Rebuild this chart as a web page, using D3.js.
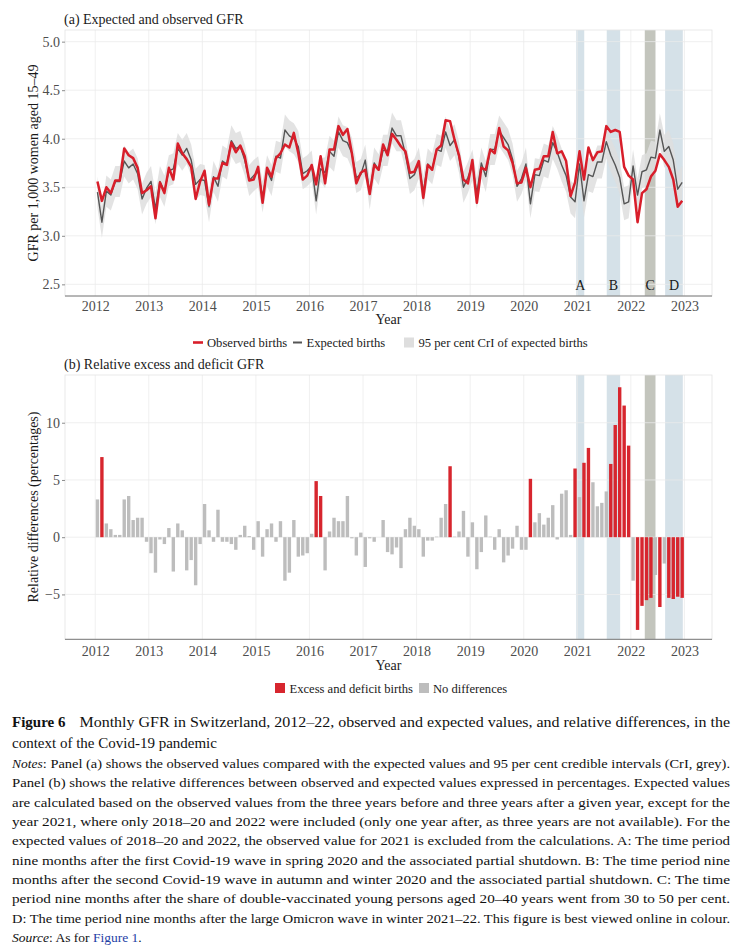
<!DOCTYPE html>
<html>
<head>
<meta charset="utf-8">
<script src="https://cdn.jsdelivr.net/npm/d3@7"></script>
<style>
body { margin: 0; background: #fff; }
svg text { font-family: "Liberation Serif", "Times New Roman", serif; }
</style>
</head>
<body>
<svg id="chart" width="740" height="949"></svg>
<script>
var years = [2012, 2013, 2014, 2015, 2016, 2017, 2018, 2019, 2020, 2021, 2022];

// GFR per 1,000 women aged 15-49, monthly, one row per year
var observed = [
  3.56, 3.36, 3.50, 3.44, 3.57, 3.57, 3.90, 3.83, 3.80, 3.70, 3.44, 3.47,
  3.51, 3.18, 3.55, 3.44, 3.70, 3.58, 3.95, 3.85, 3.79, 3.71, 3.38, 3.56,
  3.67, 3.32, 3.59, 3.59, 3.75, 3.73, 3.96, 3.86, 3.93, 3.82, 3.57, 3.58,
  3.71, 3.34, 3.70, 3.61, 3.80, 3.85, 3.94, 3.91, 4.06, 3.85, 3.58, 3.62,
  3.73, 3.53, 3.82, 3.54, 3.89, 3.89, 4.13, 4.04, 4.10, 3.85, 3.54, 3.65,
  3.68, 3.43, 3.73, 3.68, 3.94, 3.83, 4.05, 3.99, 3.92, 3.87, 3.65, 3.66,
  3.77, 3.39, 3.73, 3.68, 3.89, 3.93, 4.19, 4.18, 3.99, 3.83, 3.58, 3.54,
  3.78, 3.34, 3.70, 3.68, 3.89, 3.85, 4.11, 3.92, 3.88, 3.75, 3.54, 3.55,
  3.70, 3.50, 3.68, 3.69, 3.82, 3.82, 4.07, 3.85, 3.87, 3.77, 3.41, 3.55,
  3.87, 3.58, 3.91, 3.78, 3.86, 3.87, 4.13, 4.07, 4.09, 4.07, 3.71, 3.62,
  3.58, 3.14, 3.44, 3.48, 3.61, 3.67, 3.84, 3.78, 3.71, 3.58, 3.30, 3.36
];
var expected = [
  3.45, 3.14, 3.46, 3.42, 3.56, 3.56, 3.77, 3.70, 3.74, 3.64, 3.38, 3.49,
  3.56, 3.28, 3.56, 3.46, 3.67, 3.69, 3.90, 3.83, 3.90, 3.78, 3.53, 3.58,
  3.57, 3.30, 3.61, 3.51, 3.77, 3.74, 3.98, 3.90, 3.92, 3.78, 3.57, 3.62,
  3.66, 3.40, 3.67, 3.57, 3.82, 3.80, 4.09, 4.03, 4.00, 3.92, 3.64, 3.67,
  3.72, 3.36, 3.69, 3.65, 3.87, 3.82, 4.07, 3.98, 3.96, 3.85, 3.60, 3.63,
  3.78, 3.43, 3.75, 3.68, 3.88, 3.88, 4.11, 4.03, 4.03, 3.84, 3.59, 3.63,
  3.75, 3.45, 3.74, 3.69, 3.89, 3.87, 4.07, 3.93, 3.99, 3.81, 3.50, 3.60,
  3.73, 3.44, 3.75, 3.61, 3.89, 3.89, 4.08, 4.01, 3.94, 3.79, 3.51, 3.59,
  3.74, 3.33, 3.63, 3.62, 3.78, 3.76, 3.96, 3.86, 3.73, 3.62, 3.40, 3.35,
  3.74, 3.36, 3.63, 3.61, 3.76, 3.76, 3.97, 3.83, 3.73, 3.60, 3.33, 3.35,
  3.72, 3.42, 3.66, 3.68, 3.81, 3.80, 4.09, 3.87, 3.92, 3.78, 3.48, 3.55
];
var ciLower = [
  3.29, 2.98, 3.30, 3.26, 3.40, 3.40, 3.61, 3.54, 3.58, 3.48, 3.22, 3.33,
  3.40, 3.12, 3.40, 3.30, 3.51, 3.53, 3.74, 3.67, 3.74, 3.62, 3.37, 3.42,
  3.41, 3.14, 3.45, 3.35, 3.61, 3.58, 3.82, 3.74, 3.76, 3.62, 3.41, 3.46,
  3.50, 3.24, 3.51, 3.41, 3.66, 3.64, 3.92, 3.87, 3.84, 3.76, 3.48, 3.51,
  3.56, 3.22, 3.56, 3.49, 3.71, 3.66, 3.91, 3.82, 3.80, 3.69, 3.44, 3.47,
  3.62, 3.27, 3.59, 3.52, 3.72, 3.72, 3.95, 3.87, 3.87, 3.68, 3.43, 3.47,
  3.59, 3.29, 3.58, 3.53, 3.73, 3.71, 3.91, 3.77, 3.83, 3.65, 3.34, 3.44,
  3.57, 3.28, 3.59, 3.45, 3.73, 3.73, 3.92, 3.85, 3.78, 3.63, 3.35, 3.43,
  3.57, 3.18, 3.46, 3.45, 3.61, 3.59, 3.79, 3.69, 3.56, 3.45, 3.23, 3.18,
  3.57, 3.19, 3.46, 3.44, 3.59, 3.59, 3.80, 3.66, 3.56, 3.43, 3.16, 3.18,
  3.55, 3.25, 3.49, 3.51, 3.64, 3.63, 3.92, 3.70, 3.75, 3.61, 3.31, 3.38
];
var ciUpper = [
  3.61, 3.30, 3.62, 3.58, 3.72, 3.72, 3.93, 3.86, 3.90, 3.80, 3.54, 3.65,
  3.72, 3.44, 3.72, 3.62, 3.83, 3.85, 4.06, 3.99, 4.06, 3.94, 3.69, 3.74,
  3.73, 3.46, 3.77, 3.67, 3.93, 3.90, 4.14, 4.06, 4.08, 3.94, 3.73, 3.78,
  3.82, 3.56, 3.83, 3.73, 3.98, 3.96, 4.25, 4.19, 4.16, 4.08, 3.80, 3.83,
  3.88, 3.50, 3.80, 3.81, 4.03, 3.98, 4.23, 4.14, 4.12, 4.01, 3.76, 3.79,
  3.94, 3.59, 3.91, 3.84, 4.04, 4.04, 4.27, 4.19, 4.19, 4.00, 3.75, 3.79,
  3.91, 3.61, 3.90, 3.85, 4.05, 4.03, 4.23, 4.09, 4.15, 3.97, 3.66, 3.76,
  3.89, 3.60, 3.91, 3.77, 4.05, 4.05, 4.24, 4.17, 4.10, 3.95, 3.67, 3.75,
  3.91, 3.47, 3.80, 3.79, 3.95, 3.93, 4.13, 4.03, 3.90, 3.79, 3.57, 3.52,
  3.91, 3.53, 3.80, 3.80, 3.93, 3.93, 4.14, 4.00, 3.90, 3.77, 3.50, 3.52,
  3.89, 3.59, 3.83, 3.85, 3.98, 3.97, 4.26, 4.04, 4.09, 3.95, 3.65, 3.72
];

// relative difference observed vs expected, percent
var relDiff = [
  3.3, 7.0, 1.2, 0.7, 0.2, 0.2, 3.3, 3.6, 1.5, 1.7, 1.7, -0.4,
  -1.4, -3.1, -0.2, -0.6, 0.8, -3.0, 1.2, 0.6, -2.9, -2.0, -4.2, -0.6,
  2.9, 0.6, -0.4, 2.4, -0.4, -0.4, -0.6, -1.1, 0.2, 1.0, 0.1, -1.1,
  1.4, -1.7, 0.7, 1.2, -0.4, 1.4, -3.8, -3.1, 1.5, -1.7, -1.6, -1.4,
  0.3, 4.9, 3.6, -2.9, 0.5, 1.7, 1.4, 1.4, 3.6, -0.1, -1.6, 0.4,
  -2.6, -0.1, -0.4, 0.0, 1.5, -1.3, -1.5, -0.9, -2.7, 0.7, 1.7, 1.0,
  0.7, -1.7, -0.3, -0.3, 0.05, 1.7, 2.9, 6.2, 0.05, 0.5, 2.3, -1.7,
  1.3, -2.8, -1.3, 1.9, 0.05, -1.1, 0.7, -2.2, -1.6, -1.0, 1.0, -1.1,
  -1.1, 5.1, 1.3, 2.1, 1.1, 1.7, 2.8, -0.2, 3.8, 4.1, 0.2, 6.0,
  3.5, 6.5, 7.8, 4.8, 2.7, 3.0, 4.0, 6.4, 9.8, 13.1, 11.5, 8.0,
  -3.8, -8.1, -6.0, -5.5, -5.3, -3.3, -6.1, -2.3, -5.3, -5.4, -5.2, -5.3
];

// months where observed lies outside the 95% CrI
var excessMonths = ["2012-02", "2016-02", "2016-03", "2018-08", "2020-02", "2020-12",
  "2021-02", "2021-03", "2021-08", "2021-09", "2021-10", "2021-11", "2021-12",
  "2022-02", "2022-03", "2022-04", "2022-05", "2022-07", "2022-09", "2022-10",
  "2022-11", "2022-12"];

var periodLabels = ["A", "B", "C", "D"];
var periodStart = [2020.98, 2021.55, 2022.26, 2022.64];
var periodEnd = [2021.13, 2021.80, 2022.46, 2022.97];

var xTicks = [2012, 2013, 2014, 2015, 2016, 2017, 2018, 2019, 2020, 2021, 2022, 2023];
var gfrTicks = [2.5, 3.0, 3.5, 4.0, 4.5, 5.0];
var diffTicks = [-5, 0, 5, 10];

// ---- build month records
var data = [];
years.forEach(function (yr, yi) {
  for (var m = 0; m < 12; m++) {
    var i = yi * 12 + m;
    var key = yr + "-" + ("0" + (m + 1)).slice(-2);
    data.push({
      t: yr + (m + 0.5) / 12,
      obs: observed[i], exp: expected[i], lo: ciLower[i], hi: ciUpper[i],
      diff: relDiff[i], excess: excessMonths.indexOf(key) >= 0
    });
  }
});

var svg = d3.select("#chart");
svg.append("rect").attr("width", 740).attr("height", 949).attr("fill", "#fff");

var left = 65, right = 712;
var x = d3.scaleLinear().domain([2011.436, 2023.515]).range([left, right]);
var ya = d3.scaleLinear().domain([2.38, 5.12]).range([296, 30]);
var yb = d3.scaleLinear().domain([-8.92, 14.17]).range([639.3, 375]);

var red = "#d81e2a", greyLine = "#555555", bandCol = "#dedede";
var periodFill = ["#d5e1e8", "#d5e1e8", "#c3c5bd", "#d5e1e8"];
var tickCol = "#4d4d4d", textCol = "#1a1a1a";

function panelFrame(y, top, bottom, yTicks, tickFmt, pad) {
  var g = svg.append("g");
  // period shading
  periodLabels.forEach(function (p, i) {
    g.append("rect")
      .attr("x", x(periodStart[i])).attr("y", top)
      .attr("width", x(periodEnd[i]) - x(periodStart[i]))
      .attr("height", bottom - top)
      .attr("fill", periodFill[i]);
  });
  // grid
  g.selectAll(".gx").data(xTicks).enter().append("line")
    .attr("x1", function (d) { return x(d); }).attr("x2", function (d) { return x(d); })
    .attr("y1", top).attr("y2", bottom)
    .attr("stroke", "#ebebeb").attr("stroke-width", 0.9).attr("stroke-opacity", 0.85);
  g.selectAll(".gy").data(yTicks).enter().append("line")
    .attr("x1", left).attr("x2", right)
    .attr("y1", function (d) { return y(d); }).attr("y2", function (d) { return y(d); })
    .attr("stroke", "#ebebeb").attr("stroke-width", 0.9).attr("stroke-opacity", 0.85);
  // light border
  g.append("rect").attr("x", left).attr("y", top).attr("width", right - left).attr("height", bottom - top)
    .attr("fill", "none").attr("stroke", "#e3e3e3").attr("stroke-width", 0.8);

  // y axis
  var ay = svg.append("g").attr("transform", "translate(" + left + ",0)")
    .call(d3.axisLeft(y).tickValues(yTicks).tickSize(3).tickPadding(2).tickFormat(tickFmt));
  ay.select(".domain").remove();
  ay.selectAll("line").attr("stroke", "#8c8c8c");
  ay.selectAll("text").attr("fill", tickCol).style("font-size", "14px");

  // x axis
  var ax = svg.append("g").attr("transform", "translate(0," + bottom + ")")
    .call(d3.axisBottom(x).tickValues(xTicks).tickSize(0).tickPadding(pad).tickFormat(d3.format("d")));
  ax.select(".domain").attr("stroke", "#6b6b6b").attr("stroke-width", 0.9)
    .attr("d", "M" + left + ",0H" + right);
  ax.selectAll("text").attr("fill", tickCol).style("font-size", "14px");
}

// ================= Panel (a)
svg.append("text").attr("x", 64).attr("y", 24).attr("fill", textCol)
  .style("font-size", "14px").text("(a) Expected and observed GFR");

panelFrame(ya, 30, 296, gfrTicks, d3.format(".1f"), 5);

svg.append("path").datum(data)
  .attr("d", d3.area().x(function (d) { return x(d.t); })
    .y0(function (d) { return ya(d.lo); }).y1(function (d) { return ya(d.hi); }))
  .attr("fill", bandCol).attr("fill-opacity", 0.85);

svg.append("path").datum(data)
  .attr("d", d3.line().x(function (d) { return x(d.t); }).y(function (d) { return ya(d.exp); }))
  .attr("fill", "none").attr("stroke", greyLine).attr("stroke-width", 1.4).attr("stroke-linejoin", "round");

svg.append("path").datum(data)
  .attr("d", d3.line().x(function (d) { return x(d.t); }).y(function (d) { return ya(d.obs); }))
  .attr("fill", "none").attr("stroke", red).attr("stroke-width", 2.5).attr("stroke-linejoin", "round");

periodLabels.forEach(function (p, i) {
  svg.append("text").attr("x", x((periodStart[i] + periodEnd[i]) / 2)).attr("y", 290)
    .attr("text-anchor", "middle").attr("fill", textCol).style("font-size", "14px").text(p);
});

svg.append("text").attr("x", (left + right) / 2).attr("y", 324).attr("text-anchor", "middle")
  .attr("fill", textCol).style("font-size", "14px").text("Year");
svg.append("text").attr("transform", "translate(38,163) rotate(-90)").attr("text-anchor", "middle")
  .attr("fill", textCol).style("font-size", "14px").text("GFR per 1,000 women aged 15\u201349");

// legend (a)
var lg = svg.append("g").style("font-size", "12.6px");
lg.append("line").attr("x1", 193).attr("x2", 203).attr("y1", 342.5).attr("y2", 342.5)
  .attr("stroke", red).attr("stroke-width", 2.6);
lg.append("text").attr("x", 207).attr("y", 347).attr("fill", textCol).text("Observed births");
lg.append("line").attr("x1", 293).attr("x2", 302).attr("y1", 342.5).attr("y2", 342.5)
  .attr("stroke", greyLine).attr("stroke-width", 2);
lg.append("text").attr("x", 306.5).attr("y", 347).attr("fill", textCol).text("Expected births");
lg.append("rect").attr("x", 404).attr("y", 337.5).attr("width", 10).attr("height", 10).attr("fill", bandCol);
lg.append("text").attr("x", 418.5).attr("y", 347).attr("fill", textCol).text("95 per cent CrI of expected births");

// ================= Panel (b)
svg.append("text").attr("x", 64).attr("y", 369).attr("fill", textCol)
  .style("font-size", "14px").text("(b) Relative excess and deficit GFR");

panelFrame(yb, 375, 639.3, diffTicks, function (d) { return d < 0 ? "\u2212" + Math.abs(d) : d; }, 7);

var bw = (x(2012 + 1 / 12) - x(2012)) * 0.76;
svg.append("g").selectAll("rect").data(data).enter().append("rect")
  .attr("x", function (d) { return x(d.t) - bw / 2; })
  .attr("y", function (d) { return yb(Math.max(0, d.diff)); })
  .attr("width", bw)
  .attr("height", function (d) { return Math.abs(yb(d.diff) - yb(0)); })
  .attr("fill", function (d) { return d.excess ? "#d7262e" : "#bdbdbd"; });

svg.append("text").attr("x", (left + right) / 2).attr("y", 670).attr("text-anchor", "middle")
  .attr("fill", textCol).style("font-size", "14px").text("Year");
svg.append("text").attr("transform", "translate(38,507) rotate(-90)").attr("text-anchor", "middle")
  .attr("fill", textCol).style("font-size", "14px").text("Relative differences (percentages)");

var lb = svg.append("g").style("font-size", "12.6px");
lb.append("rect").attr("x", 275).attr("y", 683).attr("width", 10).attr("height", 10).attr("fill", "#d7262e");
lb.append("text").attr("x", 289.5).attr("y", 692.5).attr("fill", textCol).text("Excess and deficit births");
lb.append("rect").attr("x", 419).attr("y", 683).attr("width", 10).attr("height", 10).attr("fill", "#bdbdbd");
lb.append("text").attr("x", 433).attr("y", 692.5).attr("fill", textCol).text("No differences");

// ================= Caption
var capLeft = 12, capRight = 730;

function capLine(y, size, parts, justify) {
  var cx = capLeft;
  parts.forEach(function (p, k) {
    var t = svg.append("text").attr("x", cx).attr("y", y)
      .attr("fill", p.color || "#111").style("font-size", size + "px")
      .style("font-style", p.italic ? "italic" : null)
      .style("font-weight", p.bold ? "bold" : null)
      .style("white-space", "pre")
      .text(p.text);
    if (p.gap) cx += p.gap;
    if (k === parts.length - 1 && justify) {
      t.attr("textLength", capRight - cx).attr("lengthAdjust", "spacingAndGlyphs");
    } else {
      cx += t.node().getComputedTextLength();
    }
  });
}

capLine(727, 15, [{ text: "Figure 6", bold: true, gap: 14 },
  { text: "Monthly GFR in Switzerland, 2012\u201322, observed and expected values, and relative differences, in the" }], true);
capLine(747.5, 15, [{ text: "context of the Covid-19 pandemic" }], false);
capLine(768, 13.5, [{ text: "Notes", italic: true }, { text: ": Panel (a) shows the observed values compared with the expected values and 95 per cent credible intervals (CrI, grey)." }], true);
capLine(787, 13.5, [{ text: "Panel (b) shows the relative differences between observed and expected values expressed in percentages. Expected values" }], true);
capLine(806.5, 13.5, [{ text: "are calculated based on the observed values from the three years before and three years after a given year, except for the" }], true);
capLine(826, 13.5, [{ text: "year 2021, where only 2018\u201320 and 2022 were included (only one year after, as three years are not available). For the" }], true);
capLine(845, 13.5, [{ text: "expected values of 2018\u201320 and 2022, the observed value for 2021 is excluded from the calculations. A: The time period" }], true);
capLine(864.5, 13.5, [{ text: "nine months after the first Covid-19 wave in spring 2020 and the associated partial shutdown. B: The time period nine" }], true);
capLine(884, 13.5, [{ text: "months after the second Covid-19 wave in autumn and winter 2020 and the associated partial shutdown. C: The time" }], true);
capLine(903, 13.5, [{ text: "period nine months after the share of double-vaccinated young persons aged 20\u201340 years went from 30 to 50 per cent." }], true);
capLine(922.5, 13.5, [{ text: "D: The time period nine months after the large Omicron wave in winter 2021\u201322. This figure is best viewed online in colour." }], true);
capLine(942, 13.5, [{ text: "Source", italic: true }, { text: ": As for\u00a0" }, { text: "Figure 1", color: "#1f3fa6" }, { text: "." }], false);
</script>
</body>
</html>
